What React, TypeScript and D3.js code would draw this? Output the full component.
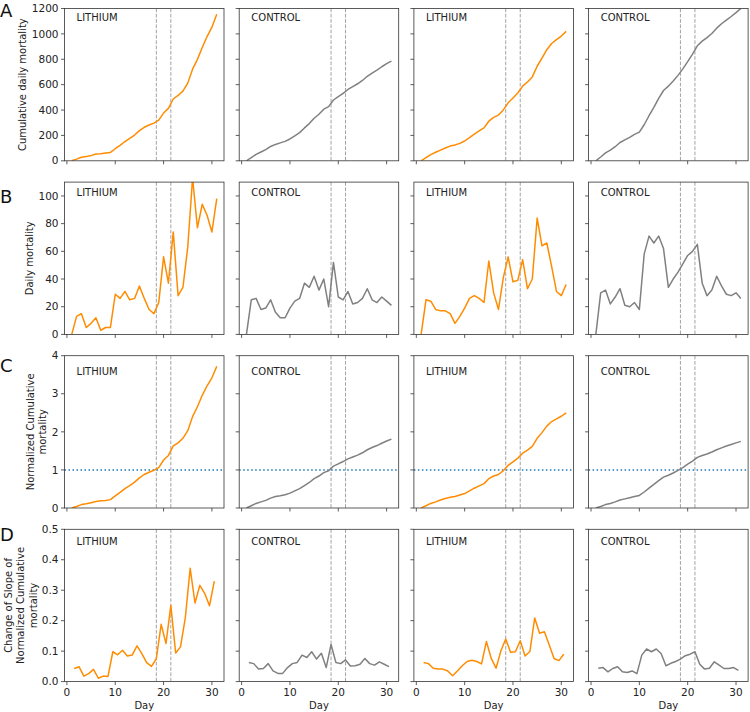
import React from "react";
import * as d3 from "d3";

// ---------- data ----------
const days = [1, 2, 3, 4, 5, 6, 7, 8, 9, 10, 11, 12, 13, 14, 15, 16, 17, 18, 19, 20, 21, 22, 23, 24, 25, 26, 27, 28, 29, 30, 31];
const midDays = [1.5, 2.5, 3.5, 4.5, 5.5, 6.5, 7.5, 8.5, 9.5, 10.5, 11.5, 12.5, 13.5, 14.5, 15.5, 16.5, 17.5, 18.5, 19.5, 20.5, 21.5, 22.5, 23.5, 24.5, 25.5, 26.5, 27.5, 28.5, 29.5, 30.5];

const groupLabels = ["LITHIUM", "CONTROL", "LITHIUM", "CONTROL"];
const rowLetters = ["A", "B", "C", "D"];

// Row A: cumulative daily mortality
const cumLithium1 = [0, 13, 28, 33, 41, 53, 56, 61, 66, 95, 121, 152, 177, 203, 238, 264, 282, 297, 320, 376, 413, 487, 515, 549, 612, 722, 799, 893, 979, 1053, 1155];
const cumControl1 = [0, 25, 51, 69, 88, 113, 129, 141, 153, 172, 196, 222, 259, 293, 335, 367, 407, 427, 479, 506, 531, 562, 584, 607, 633, 666, 691, 714, 741, 765, 786];
const cumLithium2 = [0, 25, 49, 67, 84, 101, 116, 124, 137, 156, 182, 210, 236, 259, 312, 342, 360, 401, 457, 495, 534, 588, 621, 661, 745, 809, 875, 924, 955, 983, 1020];
const cumControl2 = [0, 30, 62, 84, 111, 144, 165, 185, 208, 226, 284, 355, 421, 492, 554, 588, 628, 673, 724, 781, 841, 906, 943, 971, 1003, 1045, 1080, 1109, 1137, 1167, 1200];

// Row B: daily mortality
const dailyLithium1 = [0, 13, 15, 5, 8, 12, 3, 5, 5, 29, 26, 31, 25, 26, 35, 26, 18, 15, 23, 56, 37, 74, 28, 34, 63, 113, 77, 94, 86, 74, 98];
const dailyControl1 = [0, 25, 26, 18, 19, 25, 16, 12, 12, 19, 24, 26, 37, 34, 42, 32, 40, 20, 52, 27, 25, 31, 22, 23, 26, 33, 25, 23, 27, 24, 21];
const dailyLithium2 = [0, 25, 24, 18, 17, 17, 15, 8, 13, 19, 26, 28, 26, 23, 53, 30, 18, 41, 56, 38, 39, 54, 33, 40, 84, 64, 66, 49, 31, 28, 36];
const dailyControl2 = [0, 30, 32, 22, 27, 33, 21, 20, 23, 18, 58, 71, 66, 71, 62, 34, 40, 45, 51, 57, 60, 65, 37, 28, 32, 42, 35, 29, 28, 30, 26];

// Row C: normalized cumulative mortality
const normLithium1 = [0, 0.04, 0.09, 0.11, 0.14, 0.17, 0.19, 0.2, 0.22, 0.32, 0.41, 0.51, 0.59, 0.68, 0.79, 0.88, 0.94, 0.99, 1.06, 1.26, 1.38, 1.63, 1.71, 1.83, 2.03, 2.4, 2.66, 2.96, 3.21, 3.42, 3.72];
const normControl1 = [0, 0.06, 0.12, 0.16, 0.2, 0.26, 0.3, 0.32, 0.35, 0.39, 0.45, 0.51, 0.59, 0.67, 0.77, 0.84, 0.93, 0.98, 1.1, 1.16, 1.22, 1.29, 1.34, 1.39, 1.45, 1.53, 1.59, 1.64, 1.7, 1.76, 1.81];
const normLithium2 = [0, 0.06, 0.12, 0.16, 0.21, 0.25, 0.28, 0.3, 0.34, 0.38, 0.45, 0.52, 0.58, 0.64, 0.77, 0.84, 0.88, 0.98, 1.12, 1.21, 1.31, 1.44, 1.52, 1.62, 1.83, 1.98, 2.15, 2.27, 2.34, 2.41, 2.5];
const normControl2 = [0, 0.04, 0.09, 0.12, 0.16, 0.21, 0.24, 0.27, 0.3, 0.33, 0.42, 0.52, 0.62, 0.72, 0.81, 0.86, 0.92, 0.99, 1.06, 1.15, 1.23, 1.33, 1.38, 1.42, 1.47, 1.53, 1.58, 1.63, 1.67, 1.71, 1.75];

// Row D: change of slope of normalized cumulative mortality
const slopeLithium1 = [0.043, 0.049, 0.018, 0.026, 0.04, 0.011, 0.018, 0.017, 0.098, 0.088, 0.103, 0.084, 0.087, 0.117, 0.092, 0.062, 0.05, 0.075, 0.188, 0.125, 0.25, 0.094, 0.114, 0.21, 0.372, 0.258, 0.316, 0.29, 0.249, 0.33];
const slopeControl1 = [0.063, 0.059, 0.041, 0.043, 0.059, 0.035, 0.027, 0.027, 0.046, 0.059, 0.063, 0.087, 0.079, 0.098, 0.074, 0.093, 0.046, 0.122, 0.063, 0.059, 0.071, 0.051, 0.052, 0.057, 0.076, 0.059, 0.054, 0.065, 0.057, 0.049];
const slopeLithium2 = [0.063, 0.059, 0.044, 0.041, 0.041, 0.035, 0.019, 0.035, 0.052, 0.066, 0.07, 0.066, 0.058, 0.132, 0.076, 0.044, 0.101, 0.14, 0.096, 0.098, 0.134, 0.084, 0.099, 0.209, 0.159, 0.164, 0.12, 0.076, 0.069, 0.09];
const slopeControl2 = [0.044, 0.046, 0.032, 0.043, 0.049, 0.032, 0.03, 0.035, 0.026, 0.087, 0.107, 0.098, 0.107, 0.092, 0.052, 0.06, 0.066, 0.074, 0.085, 0.09, 0.098, 0.057, 0.041, 0.044, 0.065, 0.054, 0.043, 0.043, 0.046, 0.037];

const xTicks = [0, 10, 20, 30];
const yTicksA = [0, 200, 400, 600, 800, 1000, 1200];
const yTicksB = [0, 20, 40, 60, 80, 100];
const yTicksC = [0, 1, 2, 3, 4];
const yTicksD = [0, 0.1, 0.2, 0.3, 0.4, 0.5];
const eventDays = [18.5, 21.5];

// ---------- layout ----------
const W = 750;
const H = 712;
const FONT = "DejaVu Sans, Liberation Sans, sans-serif";
const colLeft = (i: number) => 64.5 + i * 174.7;
const panelW = 159.5;
const rowTop = (j: number) => 8.5 + j * 173.6;
const panelH = 152.3;
const ORANGE = "#ff8c00";
const GRAY = "#808080";
const SPINE = "#333333";

const rows = [
  {
    domain: [0, 1200], ticks: yTicksA, fmt: (v: number) => String(v), textY: 1100,
    series: [cumLithium1, cumControl1, cumLithium2, cumControl2], x: days,
    label: ["Cumulative daily mortality"], labelX: [25.5], letterY: 16.5, refLine: null as number | null,
  },
  {
    domain: [0, 110], ticks: yTicksB, fmt: (v: number) => String(v), textY: 100,
    series: [dailyLithium1, dailyControl1, dailyLithium2, dailyControl2], x: days,
    label: ["Daily mortality"], labelX: [32.5], letterY: 203, refLine: null as number | null,
  },
  {
    domain: [0, 4], ticks: yTicksC, fmt: (v: number) => String(v), textY: 3.5,
    series: [normLithium1, normControl1, normLithium2, normControl2], x: days,
    label: ["Normalized Cumulative", "mortality"], labelX: [33.5, 46], letterY: 372, refLine: 1 as number | null,
  },
  {
    domain: [0, 0.5], ticks: yTicksD, fmt: (v: number) => v.toFixed(1), textY: 0.45,
    series: [slopeLithium1, slopeControl1, slopeLithium2, slopeControl2], x: midDays,
    label: ["Change of Slope of", "Normalized Cumulative", "mortality"], labelX: [11.5, 24, 36.5], letterY: 541, refLine: null as number | null,
  },
];

export default function App() {
  const x = d3.scaleLinear().domain([-0.5, 32.5]).range([0, panelW]);

  return (
    <svg
      width={W}
      height={H}
      viewBox={`0 0 ${W} ${H}`}
      style={{ position: "absolute", left: 0, top: 0, background: "#fff" }}
      fontFamily={FONT}
    >
      <rect x={0} y={0} width={W} height={H} fill="#fff" />
      {rows.map((row, j) => {
        const y = d3.scaleLinear().domain(row.domain).range([panelH, 0]);
        const top = rowTop(j);
        const cy = top + panelH / 2;
        return (
          <g key={j}>
            <text x={0} y={row.letterY} fontSize={18} fill="#111">
              {rowLetters[j]}
            </text>
            {row.label.map((ln, k) => (
              <text
                key={k}
                transform={`translate(${row.labelX[k]},${cy}) rotate(-90)`}
                textAnchor="middle"
                fontSize={10}
                fill="#222"
              >
                {ln}
              </text>
            ))}
            {row.series.map((vals, i) => {
              const left = colLeft(i);
              const clipId = `clip-${j}-${i}`;
              const line = d3
                .line<number>()
                .x((_, k) => x(row.x[k]))
                .y((v) => y(v));
              return (
                <g key={i} transform={`translate(${left},${top})`}>
                  <defs>
                    <clipPath id={clipId}>
                      <rect x={0} y={0} width={panelW} height={panelH} />
                    </clipPath>
                  </defs>
                  <g clipPath={`url(#${clipId})`}>
                    {eventDays.map((d) => (
                      <line
                        key={d}
                        x1={x(d)}
                        x2={x(d)}
                        y1={0}
                        y2={panelH}
                        stroke="#a3a3a3"
                        strokeWidth={1}
                        strokeDasharray="3.7,1.6"
                      />
                    ))}
                    {row.refLine !== null && (
                      <line
                        x1={0}
                        x2={panelW}
                        y1={y(row.refLine)}
                        y2={y(row.refLine)}
                        stroke="#1f77b4"
                        strokeWidth={1.5}
                        strokeDasharray="1.5,2.5"
                      />
                    )}
                    <path
                      d={line(vals) || ""}
                      fill="none"
                      stroke={i % 2 === 0 ? ORANGE : GRAY}
                      strokeWidth={1.5}
                      strokeLinejoin="round"
                    />
                  </g>
                  <text x={x(2)} y={y(row.textY)} fontSize={10} fill="#222">
                    {groupLabels[i]}
                  </text>
                  {row.ticks.map((t) => (
                    <g key={t} transform={`translate(0,${y(t)})`}>
                      <line x1={-3.5} x2={0} stroke={SPINE} strokeWidth={0.8} />
                      {i === 0 && (
                        <text x={-6} dy="0.35em" textAnchor="end" fontSize={10.5} fill="#222">
                          {row.fmt(t)}
                        </text>
                      )}
                    </g>
                  ))}
                  {xTicks.map((t) => (
                    <g key={t} transform={`translate(${x(t)},${panelH})`}>
                      <line y1={0} y2={3.5} stroke={SPINE} strokeWidth={0.8} />
                      {j === 3 && (
                        <text y={14.5} textAnchor="middle" fontSize={10.5} fill="#222">
                          {t}
                        </text>
                      )}
                    </g>
                  ))}
                  {j === 3 && (
                    <text x={panelW / 2} y={panelH + 27.5} textAnchor="middle" fontSize={10} fill="#222">
                      Day
                    </text>
                  )}
                  <rect
                    x={0}
                    y={0}
                    width={panelW}
                    height={panelH}
                    fill="none"
                    stroke={SPINE}
                    strokeWidth={0.8}
                  />
                </g>
              );
            })}
          </g>
        );
      })}
    </svg>
  );
}
